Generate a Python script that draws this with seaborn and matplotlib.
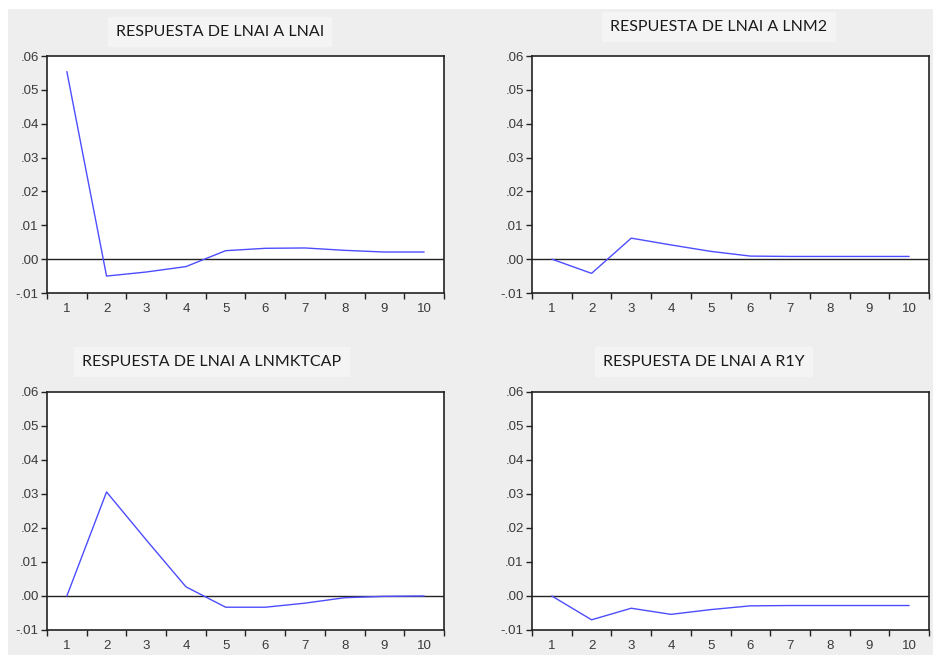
import numpy as np
import pandas as pd
import matplotlib
matplotlib.use('Agg')
import matplotlib.pyplot as plt
import seaborn as sns

sns.set_style('white')
plt.rcParams['font.family'] = ['Liberation Sans', 'DejaVu Sans']

periods = [1, 2, 3, 4, 5, 6, 7, 8, 9, 10]
titles = ['RESPUESTA DE LNAI A LNAI', 'RESPUESTA DE LNAI A LNM2',
          'RESPUESTA DE LNAI A LNMKTCAP', 'RESPUESTA DE LNAI A R1Y']
resp_lnai = [0.0554, -0.0050, -0.0038, -0.0022, 0.0025, 0.0032, 0.0033, 0.0026, 0.0021, 0.0021]
resp_lnm2 = [0.0, -0.0042, 0.0062, 0.0042, 0.0023, 0.0009, 0.0008, 0.0008, 0.0008, 0.0008]
resp_lnmktcap = [0.0, 0.0306, 0.0165, 0.0027, -0.0033, -0.0033, -0.0021, -0.0005, -0.0001, 0.0]
resp_r1y = [0.0, -0.0070, -0.0036, -0.0054, -0.0040, -0.0029, -0.0028, -0.0028, -0.0028, -0.0028]
yticks = [-0.01, 0.0, 0.01, 0.02, 0.03, 0.04, 0.05, 0.06]

series = [resp_lnai, resp_lnm2, resp_lnmktcap, resp_r1y]

W, H = 933, 655
fig = plt.figure(figsize=(W / 100, H / 100), dpi=100)
fig.patch.set_facecolor('white')
# light gray panel behind the charts
fig.patches.append(plt.Rectangle((8 / W, 0), 1, 1 - 9 / H, transform=fig.transFigure,
                                 facecolor='#eeeeee', edgecolor='none', zorder=-1))

# axes boxes in pixels: left, top, right, bottom
boxes = [(47, 56, 444, 293), (532, 56, 929, 293),
         (47, 392, 444, 630), (532, 392, 929, 630)]
title_pos = [(220, 32), (719, 27), (212, 362), (704, 362)]

for i in range(4):
    l, t, r, b = boxes[i]
    ax = fig.add_axes([l / W, 1 - b / H, (r - l) / W, (b - t) / H])
    ax.set_facecolor('white')
    df = pd.DataFrame({'period': periods, 'resp': series[i]})
    ax.axhline(0, color='#222222', lw=1.0, zorder=1)
    sns.lineplot(data=df, x='period', y='resp', ax=ax, color='#4d4dff', lw=1.0, zorder=2)
    ax.set_xlim(0.5, 10.5)
    ax.set_ylim(-0.01, 0.06)
    ax.set_xlabel('')
    ax.set_ylabel('')
    ax.set_yticks(yticks)
    ax.set_yticklabels([f'{v:.2f}'.replace('0.', '.') for v in yticks])
    ax.set_xticks([p - 0.5 for p in periods] + [10.5])
    ax.set_xticklabels([])
    ax.set_xticks(periods, minor=True)
    ax.set_xticklabels([str(p) for p in periods], minor=True)
    ax.tick_params(axis='x', which='major', direction='out', length=4, width=1, color='#222222', bottom=True)
    ax.tick_params(axis='x', which='minor', length=0, pad=7, labelsize=9.5, labelcolor='#3a3a3a')
    ax.tick_params(axis='y', direction='out', length=4, width=1, color='#222222', left=True,
                   pad=2, labelsize=9.5, labelcolor='#3a3a3a')
    for s in ax.spines.values():
        s.set_visible(True)
        s.set_color('#222222')
        s.set_linewidth(1.2)
    tx, ty = title_pos[i]
    fig.text(tx / W, 1 - ty / H, titles[i], ha='center', va='center', fontsize=11.5,
             family=['Lato', 'DejaVu Sans'], color='#1a1a1a',
             bbox=dict(facecolor='#f4f4f4', edgecolor='none', pad=6))

fig.savefig('out.png', dpi=100)
